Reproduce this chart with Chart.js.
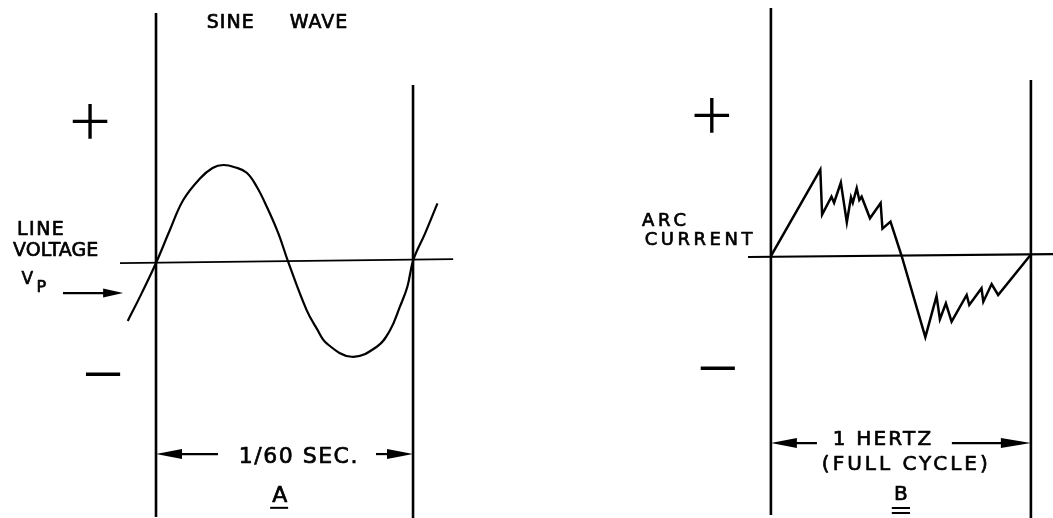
<!DOCTYPE html>
<html><head><meta charset="utf-8">
<script src="https://cdn.jsdelivr.net/npm/chart.js@4.4.1/dist/chart.umd.min.js"></script>
<style>html,body{margin:0;padding:0;background:#fff;overflow:hidden}canvas{display:block}</style>
</head><body>
<canvas id="c" width="1053" height="518"></canvas>
<script>
// ---- Panel A: line voltage sine wave (x in cycles, y in peak units)
const sineX = [-0.110,-0.056,0,0.054,0.106,0.171,0.220,0.262,0.310,0.353,0.392,0.431,0.476,0.515,0.586,0.625,0.664,0.761,0.859,0.911,0.949,0.978,1.001,1.047,1.095];
const sineY = [-0.604,-0.316,0,0.344,0.656,0.880,0.990,1.021,0.995,0.940,0.795,0.587,0.309,0.007,-0.490,-0.680,-0.837,-0.976,-0.872,-0.698,-0.455,-0.247,0.031,0.309,0.622];
const axisAX = [-0.140, 1.156];
const axisAY = [0, 0.04];
const edgesA = [0, 1];
const edgesATop = [2.604, 1.854];
const edgesABottom = [-2.646, -2.677];

// ---- Panel B: arc current (x in cycles, y in relative units)
const arcX = [0,0.190,0.197,0.233,0.243,0.269,0.292,0.308,0.315,0.330,0.340,0.349,0.381,0.422,0.429,0.460,0.503,0.594,0.637,0.650,0.673,0.695,0.753,0.763,0.810,0.817,0.849,0.874,1.0];
const arcY = [0,0.901,0.432,0.618,0.555,0.766,0.351,0.611,0.555,0.705,0.583,0.618,0.393,0.552,0.286,0.359,0,-0.844,-0.417,-0.659,-0.493,-0.684,-0.406,-0.510,-0.336,-0.476,-0.292,-0.406,0.016];
const axisBX = [-0.088, 1.085];
const axisBY = [-0.01, 0.02];
const edgesB = [0, 1];
const edgesBTop = [2.583, 1.833];
const edgesBBottom = [-2.698, -2.729];

// ---- Text labels
const labelsA = ["SINE     WAVE", "LINE", "VOLTAGE", "V", "P", "+", "\u2212", "1/60 SEC.", "A"];
const labelsB = ["ARC", "CURRENT", "+", "\u2212", "1 HERTZ", "(FULL CYCLE)", "B"];

const pts = (xs, ys) => xs.map((x, i) => ({x, y: ys[i]}));
const line = (data, xa, ya, extra) => Object.assign({data, xAxisID: xa, yAxisID: ya, borderColor: '#000', borderWidth: 2, pointRadius: 0, showLine: true, fill: false, tension: 0, borderJoinStyle: 'miter'}, extra || {});

const datasets = [
  line(pts(sineX, sineY), 'xA', 'yA', {tension: 0.4, borderWidth: 2.2, borderJoinStyle: 'round'}),
  line(pts(axisAX, axisAY), 'xA', 'yA', {borderWidth: 1.8}),
  line(pts([edgesA[0], edgesA[0]], [edgesATop[0], edgesABottom[0]]), 'xA', 'yA', {borderWidth: 2.6}),
  line(pts([edgesA[1], edgesA[1]], [edgesATop[1], edgesABottom[1]]), 'xA', 'yA', {borderWidth: 2.6}),
  line(pts(arcX, arcY), 'xB', 'yB', {borderWidth: 2.5}),
  line(pts(axisBX, axisBY), 'xB', 'yB', {borderWidth: 2.2}),
  line(pts([edgesB[0], edgesB[0]], [edgesBTop[0], edgesBBottom[0]]), 'xB', 'yB', {borderWidth: 2.6}),
  line(pts([edgesB[1], edgesB[1]], [edgesBTop[1], edgesBBottom[1]]), 'xB', 'yB', {borderWidth: 2.6}),
];

function arrowHead(ctx, tipX, tipY, dir, len, half) {
  ctx.beginPath();
  ctx.moveTo(tipX, tipY);
  ctx.lineTo(tipX - dir * len, tipY - half);
  ctx.lineTo(tipX - dir * len, tipY + half);
  ctx.closePath();
  ctx.fill();
}
function txt(ctx, s, x, y, font, align, spacing, weightStroke) {
  ctx.font = font;
  ctx.textAlign = align || 'center';
  ctx.textBaseline = 'middle';
  ctx.letterSpacing = (spacing || 0) + 'px';
  let dx = 0;
  if ((align || 'center') === 'center' && spacing) dx = spacing / 2;
  ctx.fillText(s, x + dx, y);
  if (weightStroke) {
    ctx.lineWidth = weightStroke;
    ctx.lineJoin = 'round';
    ctx.strokeText(s, x + dx, y);
  }
  ctx.letterSpacing = '0px';
}

const F = "'DejaVu Sans', sans-serif";
const SIGN = "200 80px Inter, 'DejaVu Sans', sans-serif";
const W = 0.7;

const annot = {
  id: 'annot',
  afterDatasetsDraw(chart) {
    const ctx = chart.ctx;
    const xA = chart.scales.xA, yA = chart.scales.yA, xB = chart.scales.xB, yB = chart.scales.yB;
    const pA = (x, y) => [xA.getPixelForValue(x), yA.getPixelForValue(y)];
    const pB = (x, y) => [xB.getPixelForValue(x), yB.getPixelForValue(y)];
    ctx.save();
    ctx.fillStyle = '#000';
    ctx.strokeStyle = '#000';
    // Panel A texts
    let p;
    p = pA(0.471, 2.5);  txt(ctx, labelsA[0], p[0], p[1], '19px ' + F, 'center', 1, W);
    p = pA(-0.541, 0.344); txt(ctx, labelsA[1], p[0], p[1], '19px ' + F, 'left', 1.5, W);
    p = pA(-0.556, 0.125); txt(ctx, labelsA[2], p[0], p[1], '19px ' + F, 'left', 0, W);
    p = pA(-0.523, -0.17); txt(ctx, labelsA[3], p[0], p[1], '17px ' + F, 'left', 0, W);
    p = pA(-0.465, -0.255); txt(ctx, labelsA[4], p[0], p[1], '16px ' + F, 'left', 0, W);
    p = pA(-0.257, 1.49); txt(ctx, labelsA[5], p[0], p[1], SIGN, 'center', 0);
    p = pA(-0.206, -1.146); txt(ctx, labelsA[6], p[0], p[1], SIGN, 'center', 0);
    p = pA(0.553, -2.02); txt(ctx, labelsA[7], p[0], p[1], '22px ' + F, 'center', 1.5, W);
    p = pA(0.482, -2.43); txt(ctx, labelsA[8], p[0], p[1], '22px ' + F, 'center', 0, W);
    // A underline
    ctx.lineWidth = 2;
    let a = pA(0.444, -2.55), b = pA(0.514, -2.55);
    ctx.beginPath(); ctx.moveTo(a[0], a[1]); ctx.lineTo(b[0], b[1]); ctx.stroke();
    // Vp arrow
    a = pA(-0.362, -0.3125); b = pA(-0.128, -0.3125);
    ctx.lineWidth = 2.2;
    ctx.beginPath(); ctx.moveTo(a[0], a[1]); ctx.lineTo(b[0] - 10, b[1]); ctx.stroke();
    arrowHead(ctx, b[0], b[1], 1, 20, 4.5);
    // 1/60 sec dimension arrows
    a = pA(0, -1.99); b = pA(0.241, -1.99);
    ctx.beginPath(); ctx.moveTo(a[0] + 10, a[1]); ctx.lineTo(b[0], b[1]); ctx.stroke();
    arrowHead(ctx, a[0], a[1], -1, 26, 5);
    a = pA(0.856, -1.99); b = pA(1, -1.99);
    ctx.beginPath(); ctx.moveTo(a[0], a[1]); ctx.lineTo(b[0] - 10, b[1]); ctx.stroke();
    arrowHead(ctx, b[0], b[1], 1, 26, 5);

    // Panel B texts
    p = pB(-0.496, 0.359); txt(ctx, labelsB[0], p[0], p[1], '18px ' + F, 'left', 3.8, W);
    p = pB(-0.485, 0.161); txt(ctx, labelsB[1], p[0], p[1], '18px ' + F, 'left', 3.5, W);
    p = pB(-0.227, 1.479); txt(ctx, labelsB[2], p[0], p[1], SIGN, 'center', 0);
    p = pB(-0.204, -1.156); txt(ctx, labelsB[3], p[0], p[1], SIGN, 'center', 0);
    p = pB(0.427, -1.911); txt(ctx, labelsB[4], p[0], p[1], '20px ' + F, 'center', 2.2, W);
    p = pB(0.515, -2.177); txt(ctx, labelsB[5], p[0], p[1], '20px ' + F, 'center', 3, W);
    p = pB(0.5, -2.49); txt(ctx, labelsB[6], p[0], p[1], '20px ' + F, 'center', 0, W);
    // B double underline
    ctx.lineWidth = 2;
    a = pB(0.465, -2.625); b = pB(0.535, -2.625);
    ctx.beginPath(); ctx.moveTo(a[0], a[1]); ctx.lineTo(b[0], b[1]); ctx.stroke();
    a = pB(0.465, -2.677); b = pB(0.535, -2.677);
    ctx.beginPath(); ctx.moveTo(a[0], a[1]); ctx.lineTo(b[0], b[1]); ctx.stroke();
    // 1 hertz dimension arrows
    ctx.lineWidth = 2.2;
    a = pB(0, -1.948); b = pB(0.177, -1.948);
    ctx.beginPath(); ctx.moveTo(a[0] + 10, a[1]); ctx.lineTo(b[0], b[1]); ctx.stroke();
    arrowHead(ctx, a[0], a[1], -1, 26, 5);
    a = pB(0.696, -1.948); b = pB(1, -1.948);
    ctx.beginPath(); ctx.moveTo(a[0], a[1]); ctx.lineTo(b[0] - 10, b[1]); ctx.stroke();
    arrowHead(ctx, b[0], b[1], 1, 30, 5);
    ctx.restore();
  }
};

const hidden = {display: false, grid: {display: false}};
new Chart(document.getElementById('c'), {
  type: 'scatter',
  data: {datasets},
  options: {
    responsive: false,
    animation: false,
    layout: {padding: 0},
    plugins: {legend: {display: false}, tooltip: {enabled: false}},
    scales: {
      xA: Object.assign({type: 'linear', position: 'bottom', min: -0.607, max: 3.490}, hidden),
      yA: Object.assign({type: 'linear', position: 'left', min: -2.656, max: 2.740}, hidden),
      xB: Object.assign({type: 'linear', position: 'bottom', min: -2.965, max: 1.085}, hidden),
      yB: Object.assign({type: 'linear', position: 'left', min: -2.729, max: 2.667}, hidden)
    }
  },
  plugins: [annot]
});
</script>
</body></html>
